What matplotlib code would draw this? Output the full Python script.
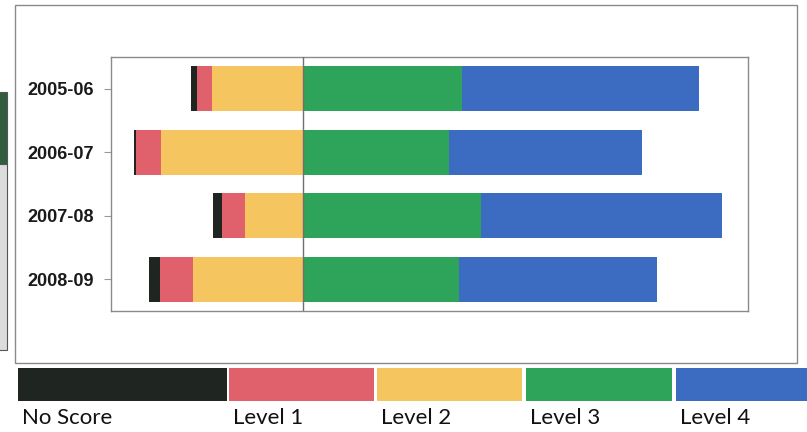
import matplotlib
matplotlib.use("Agg")
import matplotlib.pyplot as plt
from matplotlib.patches import Rectangle
import numpy as np

# Share of pupils at each attainment level (%), by school year
years = ["2005-06", "2006-07", "2007-08", "2008-09"]
no_score = [1.2, 0.4, 1.8, 2.2]
level_1 = [3.0, 4.9, 4.5, 6.5]
level_2 = [17.9, 28.0, 11.4, 21.7]
level_3 = [31.3, 28.7, 35.0, 30.7]
level_4 = [46.7, 38.0, 47.4, 39.0]
legend_labels = ["No Score", "Level 1", "Level 2", "Level 3", "Level 4"]

colors = ["#1f2521", "#e0616b", "#f5c560", "#2ea35a", "#3b6cc2"]

W, H = 807, 432
fig = plt.figure(figsize=(W / 100, H / 100), dpi=100)
fig.patch.set_facecolor("white")


def fx(px):
    return px / W


def fy(py):
    return 1 - py / H


# Outer frame around the chart
frame = fig.add_axes([0, 0, 1, 1], zorder=-1)
frame.set_xlim(0, W)
frame.set_ylim(H, 0)
frame.axis("off")
frame.add_patch(Rectangle((15, 5), 782, 358, fill=False, edgecolor="#8a8a8a", lw=1.0))
# Edge of a neighbouring chart along the left margin
frame.add_patch(Rectangle((-2, 92), 9, 72, facecolor="#2f5f3c", edgecolor="#555555", lw=0.8))
frame.add_patch(Rectangle((-2, 164), 9, 186, facecolor="#dcdcdc", edgecolor="#555555", lw=0.8))

# Main diverging bar chart
ax = fig.add_axes([fx(111), fy(311), fx(748) - fx(111), fy(57) - fy(311)])
y = np.arange(len(years))
ns = np.array(no_score)
l1 = np.array(level_1)
l2 = np.array(level_2)
l3 = np.array(level_3)
l4 = np.array(level_4)
h = 0.71

ax.barh(y, l2, left=-l2, height=h, color=colors[2], lw=0)
ax.barh(y, l1, left=-(l2 + l1), height=h, color=colors[1], lw=0)
ax.barh(y, ns, left=-(l2 + l1 + ns), height=h, color=colors[0], lw=0)
ax.barh(y, l3, left=0, height=h, color=colors[3], lw=0)
ax.barh(y, l4, left=l3, height=h, color=colors[4], lw=0)

ax.axvline(0, color="#707070", lw=1.0, zorder=3)
ax.set_xlim(-37.8, 87.6)
ax.set_ylim(len(years) - 0.5, -0.5)
ax.set_yticks(y)
ax.set_yticklabels(years, fontsize=13, family="Liberation Sans", color="#1a1a1a",
                   fontweight="bold")
ax.set_xticks([])
ax.tick_params(axis="y", length=5, width=0.8, color="#999999", pad=7)
for s in ax.spines.values():
    s.set_color("#8a8a8a")
    s.set_linewidth(1.0)

# Colour key strip along the bottom
key_left = [18, 229, 377, 526, 676]
key_right = [227, 374, 522, 672, 812]
for i, lab in enumerate(legend_labels):
    frame.add_patch(Rectangle((key_left[i], 368), key_right[i] - key_left[i], 33,
                              facecolor=colors[i], edgecolor="none"))
    frame.text(key_left[i] + 4, 424, lab, fontsize=16, family="Lato",
               fontweight="normal", color="#111111", ha="left", va="baseline")

fig.savefig("out.png", dpi=100)
